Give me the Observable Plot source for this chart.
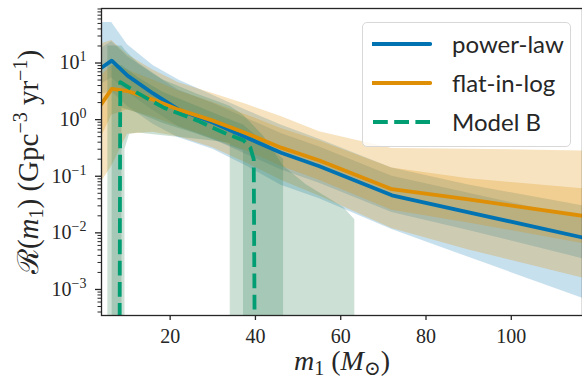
<!DOCTYPE html>
<html>
<head>
<meta charset="utf-8">
<script src="https://cdn.jsdelivr.net/npm/d3@7"></script>
<script src="https://cdn.jsdelivr.net/npm/@observablehq/plot@0.6"></script>
<style>
  html, body { margin: 0; padding: 0; background: white; }
  #wrap { position: relative; width: 582px; height: 381px; overflow: hidden; }
  #legend { position: absolute; left: 362px; top: 22px; width: 209px; height: 125px;
    box-sizing: border-box; border: 1px solid #d8d8d8; border-radius: 5px;
    background: rgba(255,255,255,0.8); font-family: Lato, "Open Sans", sans-serif; font-size: 24px; color: #262626; }
  .lrow { position: absolute; left: 0; height: 30px; width: 100%; }
  .lrow svg { position: absolute; left: 9px; top: 0; }
  .lrow span { position: absolute; left: 89px; top: 50%; transform: translateY(-52%); white-space: nowrap; }
</style>
</head>
<body>
<div id="wrap">
  <div id="chart"></div>
  <div id="legend"></div>
</div>
<script>
// ---------------- data ----------------
const seriesNames = ["power-law", "flat-in-log", "Model B"];
const seriesColors = ["#0173B2", "#DE8F05", "#029E73"];
const bandColors = ["#0173B2", "#DE8F05", "#33835B"];

// primary mass grid (M_sun) for power-law and flat-in-log
const mGrid = [3.9, 6.3, 10, 16, 22, 30, 38, 46, 55, 72, 90, 116.7];

// power-law rate (Gpc^-3 yr^-1)
const plMedian  = [8.3, 11, 6.0, 2.9, 1.5, 0.89, 0.48, 0.26, 0.15, 0.046, 0.023, 0.0083];
const plLoOuter = [2.8, 3.1, 1.7, 0.83, 0.48, 0.30, 0.15, 0.069, 0.04, 0.0115, 0.0037, 0.0007];
const plHiOuter = [52, 52, 21, 9, 5, 2.7, 1.45, 0.8, 0.45, 0.14, 0.07, 0.03];
const plLoInner = [4.2, 5.5, 3.0, 1.45, 0.75, 0.45, 0.24, 0.13, 0.075, 0.023, 0.011, 0.0035];
const plHiInner = [18, 24, 13, 6.4, 3.3, 1.95, 1.05, 0.57, 0.33, 0.10, 0.05, 0.018];

// flat-in-log rate
const flMedian  = [1.9, 3.5, 3.2, 2.26, 1.5, 0.96, 0.57, 0.32, 0.19, 0.059, 0.039, 0.020];
const flLoOuter = [0.08, 0.15, 0.55, 0.6, 0.5, 0.32, 0.17, 0.085, 0.045, 0.012, 0.005, 0.0016];
const flHiOuter = [22, 25, 14, 7.5, 4.5, 2.9, 1.85, 1.13, 0.61, 0.31, 0.30, 0.28];
const flLoInner = [0.5, 1.2, 1.5, 1.1, 0.75, 0.47, 0.28, 0.15, 0.085, 0.025, 0.015, 0.0065];
const flHiInner = [6, 9, 7.5, 5, 3.2, 2.0, 1.2, 0.7, 0.42, 0.14, 0.09, 0.06];

// Model B (rate falls to ~0 outside m_min..m_max; 1e-5 stands in for 0)
const mbLineM = [8.1, 8.3, 12.5, 18.4, 26.4, 32.5, 37.2, 38.8, 39.6, 39.9];
const mbLineR = [1e-5, 4.6, 2.9, 1.64, 0.96, 0.59, 0.43, 0.32, 0.2, 1e-5];

const mbOuterM  = [5.4, 8.7, 9.4, 9.4, 10.5, 12.5, 18.4, 26.4, 32.5, 34.1, 34.1, 37.2, 42, 46.6, 52, 60.7, 63.3];
const mbOuterLo = [1e-5, 1e-5, 1e-5, 0.3, 0.55, 0.58, 0.52, 0.45, 0.40, 0.38, 1e-5, 1e-5, 1e-5, 1e-5, 1e-5, 1e-5, 1e-5];
const mbOuterHi = [20, 20, 17, 17, 14, 10, 5, 2.8, 1.9, 1.7, 1.7, 1.2, 0.5, 0.15, 0.07, 0.028, 0.017];

const mbInnerM  = [6.4, 8.7, 8.7, 12.5, 18.4, 26.4, 32.5, 37.2, 37.2, 42, 46.6];
const mbInnerLo = [1e-5, 1e-5, 1.6, 1.3, 0.85, 0.55, 0.38, 0.28, 1e-5, 1e-5, 1e-5];
const mbInnerHi = [9, 9, 9, 5.5, 3, 1.7, 1.1, 0.8, 0.8, 0.4, 0.2];

// axes
const xTicks = [20, 40, 60, 80, 100];
const yMajorTicks = [1e-3, 1e-2, 1e-1, 1, 10];
const yTickLabels = ["10^-3", "10^-2", "10^-1", "10^0", "10^1"];
const yMinorTicks = [];
for (let e = -4; e <= 1; e++) for (let k = 2; k <= 9; k++) {
  const v = k * Math.pow(10, e);
  if (v > 3.47e-4 && v < 91.8) yMinorTicks.push(v);
}
const yTitle = "R(m1) (Gpc-3 yr-1)";
const xTitle = "m1 (Msun)";

// ---------------- tables ----------------
const band = (ms, lo, hi) => ms.map((m, i) => ({m, lo: lo[i], hi: hi[i]}));
const line = (ms, r) => ms.map((m, i) => ({m, r: r[i]}));

const [BLUE, ORANGE, GREEN] = seriesColors;
const [BBAND, OBAND, GBAND] = bandColors;

const chart = Plot.plot({
  width: 582,
  height: 381,
  marginLeft: 101,
  marginRight: 0,
  marginTop: 8,
  marginBottom: 66,
  x: {domain: [3.9, 116.7]},
  y: {type: "log", domain: [3.47e-4, 91.8]},
  style: {fontFamily: "'Liberation Serif', 'DejaVu Serif', serif", fontSize: "20px", color: "#262626", background: "white", overflow: "visible"},
  marks: [
    Plot.areaY(band(mGrid, plLoOuter, plHiOuter), {x: "m", y1: "lo", y2: "hi", fill: BBAND, fillOpacity: 0.22, clip: true}),
    Plot.areaY(band(mGrid, plLoInner, plHiInner), {x: "m", y1: "lo", y2: "hi", fill: BBAND, fillOpacity: 0.22, clip: true}),
    Plot.areaY(band(mGrid, flLoOuter, flHiOuter), {x: "m", y1: "lo", y2: "hi", fill: OBAND, fillOpacity: 0.25, clip: true}),
    Plot.areaY(band(mGrid, flLoInner, flHiInner), {x: "m", y1: "lo", y2: "hi", fill: OBAND, fillOpacity: 0.25, clip: true}),
    Plot.areaY(band(mbOuterM, mbOuterLo, mbOuterHi), {x: "m", y1: "lo", y2: "hi", fill: GBAND, fillOpacity: 0.25, clip: true}),
    Plot.areaY(band(mbInnerM, mbInnerLo, mbInnerHi), {x: "m", y1: "lo", y2: "hi", fill: GBAND, fillOpacity: 0.25, clip: true}),
    Plot.line(line(mGrid, plMedian), {x: "m", y: "r", stroke: BLUE, strokeWidth: 3.8, clip: true}),
    Plot.line(line(mGrid, flMedian), {x: "m", y: "r", stroke: ORANGE, strokeWidth: 3.8, clip: true}),
    Plot.line(line(mbLineM, mbLineR), {x: "m", y: "r", stroke: GREEN, strokeWidth: 3.8, strokeDasharray: "14.8,6.4", strokeLinecap: "butt", clip: true}),
    Plot.frame({stroke: "#262626", strokeWidth: 1.3}),
    Plot.axisX({ticks: xTicks, tickSize: 5, tickPadding: 8, tickFormat: d => String(d), label: null, strokeWidth: 1.3}),
    Plot.axisY({ticks: yMinorTicks, tickSize: 3.5, tickFormat: () => "", label: null, strokeWidth: 1}),
    Plot.axisY({ticks: yMajorTicks, tickSize: 6, tickPadding: 9, tickFormat: d => yTickLabels[yMajorTicks.indexOf(d)], label: null, strokeWidth: 1.3}),
    Plot.text([yTitle], {frameAnchor: "left", dx: -73, rotate: -90, textAnchor: "middle", lineAnchor: "middle", fontSize: 29}),
    Plot.text([xTitle], {frameAnchor: "bottom", dy: 46, textAnchor: "middle", lineAnchor: "middle", fontSize: 28})
  ]
});
document.getElementById("chart").appendChild(chart);

// ---------------- rich text (super/subscripts) ----------------
const svg = d3.select(chart);
function rich(node, parts) {
  const sel = d3.select(node);
  sel.text(null);
  for (const p of parts) {
    const ts = sel.append("tspan").text(p.t);
    if (p.i) ts.attr("font-style", "italic");
    if (p.sub) ts.attr("font-size", p.size || "20px").attr("baseline-shift", "-5px");
    if (p.sup) ts.attr("font-size", p.size || "20px").attr("baseline-shift", p.shift || "11px");
  }
}
svg.selectAll("text").each(function () {
  const t = this.textContent;
  if (t === yTitle) {
    rich(this, [
      {t: "\u211B("}, {t: "m", i: true}, {t: "1", sub: true}, {t: ") (Gpc"}, {t: "\u22123", sup: true},
      {t: " yr"}, {t: "\u22121", sup: true}, {t: ")"}
    ]);
  } else if (t === xTitle) {
    rich(this, [
      {t: "m", i: true}, {t: "1", sub: true}, {t: " ("}, {t: "M", i: true}, {t: "\u2299", sub: true}, {t: ")"}
    ]);
  } else if (/^10\^/.test(t)) {
    const exp = t.split("^")[1].replace("-", "\u2212");
    rich(this, [{t: "10"}, {t: exp, sup: true, size: "14px", shift: "8px"}]);
  }
});

// ---------------- legend ----------------
const legend = document.getElementById("legend");
const rowCenters = [21, 60, 99];
seriesNames.forEach((name, i) => {
  const row = document.createElement("div");
  row.className = "lrow";
  row.style.top = (rowCenters[i] - 15) + "px";
  const dash = i === 2 ? ' stroke-dasharray="14.8,6.4"' : '';
  row.innerHTML = `<svg width="60" height="30"><line x1="1" x2="58" y1="15" y2="15" stroke="${seriesColors[i]}" stroke-width="4.2"${dash} stroke-linecap="${i === 2 ? "butt" : "round"}"/></svg><span>${name}</span>`;
  legend.appendChild(row);
});
</script>
</body>
</html>
